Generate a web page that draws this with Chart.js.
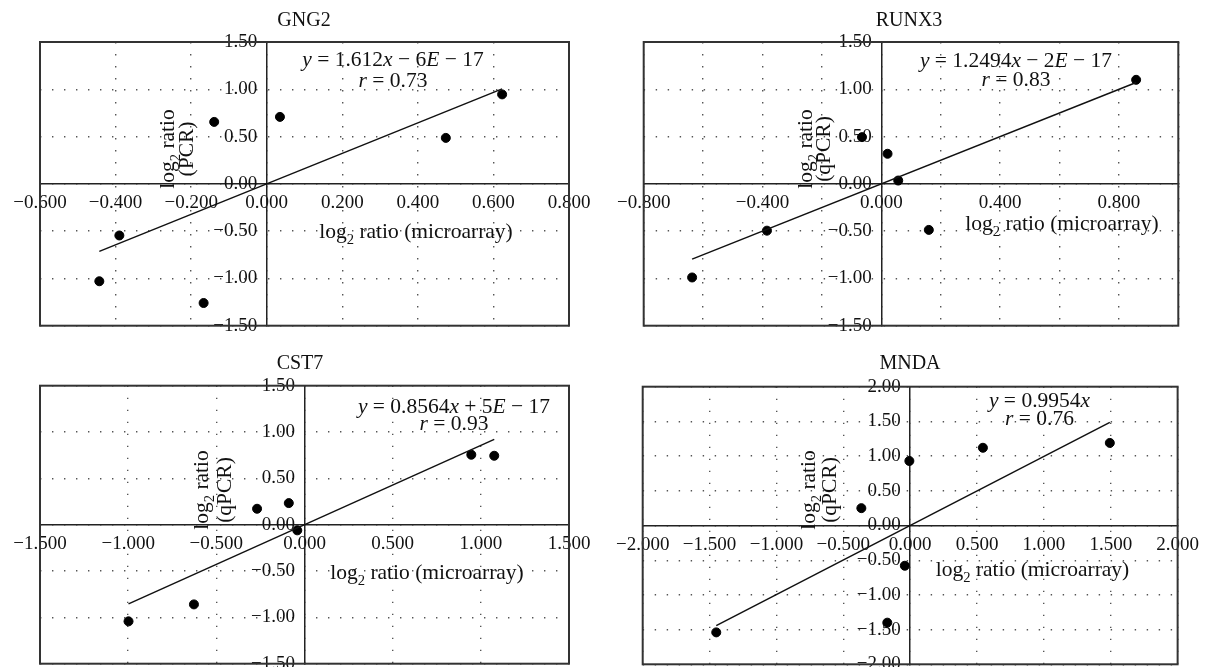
<!DOCTYPE html>
<html>
<head>
<meta charset="utf-8">
<title>log2 ratio microarray vs qPCR</title>
<script src="https://cdn.jsdelivr.net/npm/chart.js@4.4.1/dist/chart.umd.min.js"></script>
<style>
  html, body { margin: 0; padding: 0; background: #fff; overflow: hidden; }
  #wrap { position: relative; width: 1207px; height: 667px; overflow: hidden; }
  #wrap canvas { position: absolute; }
</style>
</head>
<body>
<div id="wrap">
  <canvas id="gng2"></canvas>
  <canvas id="runx3"></canvas>
  <canvas id="cst7"></canvas>
  <canvas id="mnda"></canvas>
</div>
<script>
// Values (x = microarray, y = PCR / qPCR)
const geneNames = ['GNG2', 'RUNX3', 'CST7', 'MNDA'];
const yMethod = ['(PCR)', '(qPCR)', '(qPCR)', '(qPCR)'];

const gng2Micro = [-0.443, -0.390, -0.167, -0.139, 0.035, 0.474, 0.623];
const gng2Pcr = [-1.03, -0.546, -1.26, 0.655, 0.708, 0.486, 0.946];

const runx3Micro = [-0.637, -0.385, -0.065, 0.021, 0.057, 0.160, 0.858];
const runx3Pcr = [-0.99, -0.495, 0.494, 0.318, 0.035, -0.487, 1.10];

const cst7Micro = [-0.998, -0.627, -0.269, -0.089, -0.041, 0.946, 1.076];
const cst7Pcr = [-1.043, -0.86, 0.172, 0.233, -0.061, 0.755, 0.744];

const mndaMicro = [-1.45, -0.365, -0.171, -0.040, -0.006, 0.544, 1.493];
const mndaPcr = [-1.54, 0.25, -1.40, -0.58, 0.93, 1.12, 1.19];

// Trendlines as printed on the panels
const fitSlope = [1.612, 1.2494, 0.8564, 0.9954];
const fitIntercept = [-6e-17, -2e-17, 5e-17, 0];
const slopeText = ['1.612', '1.2494', '0.8564', '0.9954'];
const constSign = ['\u2212', '\u2212', '+', ''];
const constMantissa = ['6', '2', '5', ''];
const rText = ['0.73', '0.83', '0.93', '0.76'];

// Axis ranges: [min, max, step]
const xRanges = [[-0.6, 0.8, 0.2], [-0.8, 1.0, 0.2], [-1.5, 1.5, 0.5], [-2, 2, 0.5]];
const yRanges = [[-1.5, 1.5, 0.5], [-1.5, 1.5, 0.5], [-1.5, 1.5, 0.5], [-2, 2, 0.5]];
const xLabelEvery = [1, 2, 1, 1];

const seriesX = [gng2Micro, runx3Micro, cst7Micro, mndaMicro];
const seriesY = [gng2Pcr, runx3Pcr, cst7Pcr, mndaPcr];

// Canvas placement and text anchors (canvas pixels)
const panels = [
  {id: 'gng2', left: 0, top: 0, width: 603, height: 345,
    pad: {left: 40, right: 34, top: 42, bottom: 19.3},
    title: [304, 26], eq: [393, 65.5, 87], xTitle: [416, 238], yTitle: [149, 174, 192.5]},
  {id: 'runx3', left: 603, top: 0, width: 604, height: 345,
    pad: {left: 40.7, right: 28.7, top: 42, bottom: 19.3},
    title: [306, 26], eq: [413, 66.5, 85.5], xTitle: [459, 230], yTitle: [149, 209, 227]},
  {id: 'cst7', left: 0, top: 330, width: 603, height: 350,
    pad: {left: 40, right: 34, top: 55.7, bottom: 16.3},
    title: [300, 39.3], eq: [454, 82.5, 100], xTitle: [427, 249], yTitle: [160, 208, 230.5]},
  {id: 'mnda', left: 603, top: 330, width: 604, height: 350,
    pad: {left: 39.7, right: 29.3, top: 56.7, bottom: 15.7},
    title: [307, 39.3], eq: [436.5, 76.5, 95], xTitle: [429.5, 246], yTitle: [160, 212, 232.5]}
];

const FONT = '"Liberation Serif", "Times New Roman", serif';
const TITLE_SIZE = 20;
const TEXT_SIZE = 21.5;
const TICK_SIZE = 19;

function fmt(v, digits) {
  const s = Math.abs(v).toFixed(digits);
  return v < -1e-9 ? '\u2212' + s : s;
}

// Draw a line of mixed italic / subscript pieces centred on cx
function drawRich(ctx, parts, cx, y, size) {
  const fontOf = (p) => (p.italic ? 'italic ' : '') + (p.sub ? size * 0.68 : size) + 'px ' + FONT;
  let total = 0;
  parts.forEach(p => { ctx.font = fontOf(p); total += ctx.measureText(p.text).width; });
  let x = cx - total / 2;
  parts.forEach(p => {
    ctx.font = fontOf(p);
    ctx.fillText(p.text, x, y + (p.sub ? size * 0.3 : 0));
    x += ctx.measureText(p.text).width;
  });
}

const panelDecor = {
  id: 'panelDecor',
  afterDraw(chart, args, opts) {
    const {ctx, chartArea: area} = chart;
    const p = opts.panel;
    const i = opts.index;
    ctx.save();
    ctx.strokeStyle = '#333';
    ctx.lineWidth = 2;
    ctx.strokeRect(area.left, area.top, area.right - area.left, area.bottom - area.top);

    ctx.fillStyle = '#111';
    ctx.textAlign = 'left';
    ctx.textBaseline = 'alphabetic';

    drawRich(ctx, [{text: geneNames[i]}], p.title[0], p.title[1], TITLE_SIZE);

    // regression equation and r
    const eq = [{text: 'y', italic: true}, {text: ' = ' + slopeText[i]}, {text: 'x', italic: true}];
    if (constSign[i]) {
      eq.push({text: ' ' + constSign[i] + ' ' + constMantissa[i]});
      eq.push({text: 'E', italic: true});
      eq.push({text: ' \u2212 17'});
    }
    drawRich(ctx, eq, p.eq[0], p.eq[1], TEXT_SIZE);
    drawRich(ctx, [{text: 'r', italic: true}, {text: ' = ' + rText[i]}], p.eq[0], p.eq[2], TEXT_SIZE);

    // axis titles
    drawRich(ctx, [{text: 'log'}, {text: '2', sub: true}, {text: ' ratio (microarray)'}],
      p.xTitle[0], p.xTitle[1], TEXT_SIZE);

    ctx.save();
    ctx.translate(p.yTitle[1], p.yTitle[0]);
    ctx.rotate(-Math.PI / 2);
    drawRich(ctx, [{text: 'log'}, {text: '2', sub: true}, {text: ' ratio'}], 0, 0, TEXT_SIZE);
    ctx.restore();
    ctx.save();
    ctx.translate(p.yTitle[2], p.yTitle[0]);
    ctx.rotate(-Math.PI / 2);
    drawRich(ctx, [{text: yMethod[i]}], 0, 0, TEXT_SIZE);
    ctx.restore();

    ctx.restore();
  }
};

function buildPanel(p, i) {
  const canvas = document.getElementById(p.id);
  canvas.width = p.width;
  canvas.height = p.height;
  canvas.style.left = p.left + 'px';
  canvas.style.top = p.top + 'px';

  const xs = seriesX[i];
  const ys = seriesY[i];
  const points = xs.map((x, k) => ({x: x, y: ys[k]}));
  const x0 = Math.min(...xs);
  const x1 = Math.max(...xs);
  const fit = [x0, x1].map(x => ({x: x, y: fitSlope[i] * x + fitIntercept[i]}));

  const [xMin, xMax, xStep] = xRanges[i];
  const [yMin, yMax, yStep] = yRanges[i];
  const tickFont = {family: FONT, size: TICK_SIZE};
  const gridStyle = {color: '#555', lineWidth: 1.4, drawTicks: false};
  const borderStyle = {display: true, color: '#222', width: 1.5, dash: [1.4, 10.6]};

  return new Chart(canvas.getContext('2d'), {
    type: 'scatter',
    data: {
      datasets: [
        {
          type: 'line',
          data: fit,
          borderColor: '#111',
          borderWidth: 1.5,
          pointRadius: 0,
          fill: false
        },
        {
          data: points,
          backgroundColor: '#000',
          borderColor: '#000',
          pointRadius: 4.5,
          pointHoverRadius: 4.5
        }
      ]
    },
    options: {
      responsive: false,
      animation: false,
      devicePixelRatio: 1,
      layout: {padding: p.pad},
      plugins: {
        legend: {display: false},
        tooltip: {enabled: false},
        panelDecor: {panel: p, index: i}
      },
      scales: {
        x: {
          type: 'linear',
          position: {y: 0},
          min: xMin,
          max: xMax,
          grid: gridStyle,
          border: borderStyle,
          ticks: {
            stepSize: xStep,
            autoSkip: false,
            maxRotation: 0,
            padding: 8,
            color: '#111',
            font: tickFont,
            callback: (v, idx) => (idx % xLabelEvery[i] === 0 ? fmt(v, 3) : '')
          }
        },
        y: {
          type: 'linear',
          position: {x: 0},
          min: yMin,
          max: yMax,
          grid: gridStyle,
          border: borderStyle,
          ticks: {
            stepSize: yStep,
            autoSkip: false,
            color: '#111',
            font: tickFont,
            // centred axes take no padding, so keep a small gap with an en space
            callback: v => fmt(v, 2) + '\u2002'
          }
        }
      }
    },
    plugins: [panelDecor]
  });
}

panels.forEach(buildPanel);
</script>
</body>
</html>
